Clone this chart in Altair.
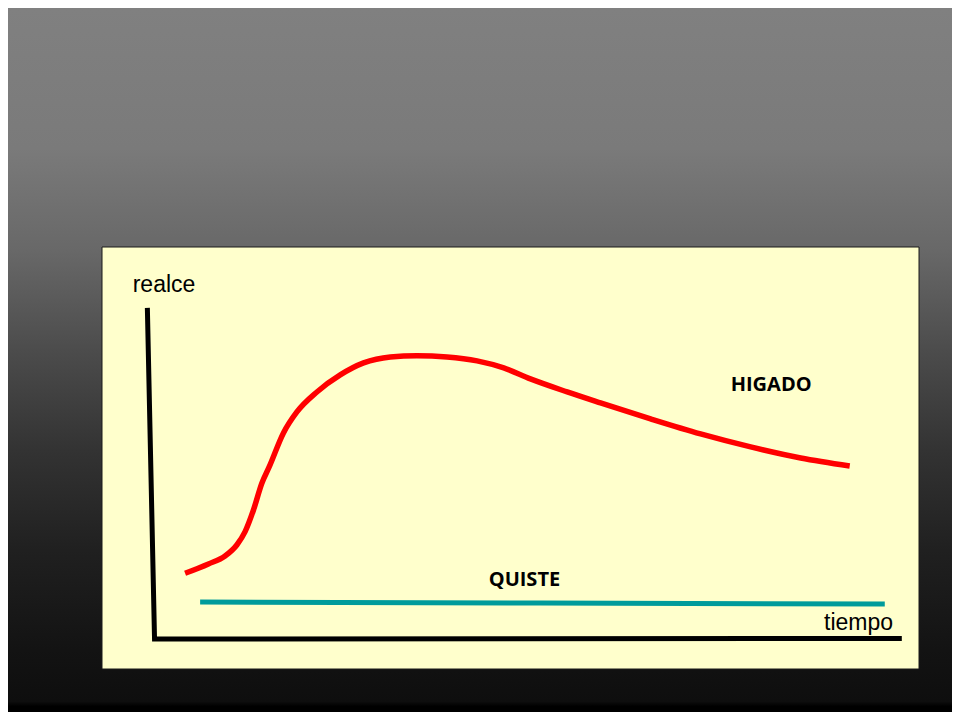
import altair as alt
import pandas as pd

# ---- data (units: tiempo 0..100 along drawn x-axis, realce 0..100 along drawn y-axis)
higado_t = [4.09, 7.21, 9.44, 11.01, 12.12, 13.24, 14.36, 15.34, 17.25, 19.05, 21.73, 24.85, 27.97, 31.55,
            35.12, 39.14, 43.16, 46.73, 50.30, 55.22, 59.68, 66.38, 73.07, 79.77, 86.47, 93.03]
higado_r = [19.85, 22.66, 25.08, 28.40, 32.42, 38.97, 47.04, 51.96, 62.24, 68.58, 74.62, 79.76, 83.38, 85.20,
            85.59, 85.20, 83.99, 81.87, 78.55, 74.62, 71.30, 66.47, 61.93, 58.01, 54.68, 52.27]

quiste_t = [6.10, 51.64, 97.72]
quiste_r = [11.18, 10.88, 10.57]

axis_t = [-0.96, 0.0, 100.0]
axis_r = [100.0, 0.0, 0.15]

plain_labels = ["realce", "tiempo"]
plain_t = [-2.92, 98.83]
plain_r = [104.9, 2.72]
plain_align = ["left", "right"]

bold_labels = ["HIGADO", "QUISTE"]
bold_t = [77.1, 44.72]
bold_r = [75.0, 16.1]

X_DOMAIN = [-7.03, 102.3]
Y_DOMAIN = [-9.06, 118.4]

W, H = 817, 422
PAD = {"left": 94, "top": 239, "right": 33, "bottom": 43}

xs = alt.Scale(domain=X_DOMAIN, nice=False, zero=False)
ys = alt.Scale(domain=Y_DOMAIN, nice=False, zero=False)

one = pd.DataFrame({"k": [0]})

bg = alt.Chart(one).mark_rect(
    color=alt.Gradient(
        gradient="linear",
        stops=[
            alt.GradientStop(color="#808080", offset=0.0),
            alt.GradientStop(color="#7a7a7a", offset=0.2),
            alt.GradientStop(color="#686868", offset=0.344),
            alt.GradientStop(color="#4c4c4c", offset=0.486),
            alt.GradientStop(color="#333333", offset=0.628),
            alt.GradientStop(color="#202020", offset=0.77),
            alt.GradientStop(color="#131313", offset=0.912),
            alt.GradientStop(color="#0e0e0e", offset=0.985),
            alt.GradientStop(color="#000000", offset=0.992),
            alt.GradientStop(color="#000000", offset=1.0),
        ],
        x1=0, x2=0, y1=0, y2=1,
    ),
    clip=False,
).encode(
    x=alt.value(-PAD["left"]), x2=alt.value(W + PAD["right"]),
    y=alt.value(-PAD["top"]), y2=alt.value(H + PAD["bottom"]),
)

panel = alt.Chart(one).mark_rect(
    fill="#FFFFCC", stroke="#1a1a1a", strokeWidth=1
).encode(
    x=alt.value(0), x2=alt.value(W), y=alt.value(0), y2=alt.value(H)
)

axes_df = pd.DataFrame({"t": axis_t, "r": axis_r, "o": list(range(len(axis_t)))})
axes_line = alt.Chart(axes_df).mark_line(
    color="#000000", strokeWidth=5, strokeJoin="miter", strokeCap="butt"
).encode(
    x=alt.X("t:Q", scale=xs, axis=None),
    y=alt.Y("r:Q", scale=ys, axis=None),
    order="o:Q",
)

hig_df = pd.DataFrame({"t": higado_t, "r": higado_r, "o": list(range(len(higado_t)))})
hig_line = alt.Chart(hig_df).mark_line(
    color="#FF0000", strokeWidth=5.5, interpolate="monotone", strokeCap="butt"
).encode(
    x=alt.X("t:Q", scale=xs, axis=None),
    y=alt.Y("r:Q", scale=ys, axis=None),
    order="o:Q",
)

q_df = pd.DataFrame({"t": quiste_t, "r": quiste_r, "o": list(range(len(quiste_t)))})
q_line = alt.Chart(q_df).mark_line(
    color="#009B9B", strokeWidth=5, strokeCap="butt"
).encode(
    x=alt.X("t:Q", scale=xs, axis=None),
    y=alt.Y("r:Q", scale=ys, axis=None),
    order="o:Q",
)

plain_df = pd.DataFrame({"label": plain_labels, "t": plain_t, "r": plain_r, "a": plain_align})
plain_left = alt.Chart(plain_df[plain_df.a == "left"]).mark_text(
    font="Liberation Sans", fontSize=23, align="left", baseline="alphabetic", color="#000000"
).encode(x=alt.X("t:Q", scale=xs, axis=None), y=alt.Y("r:Q", scale=ys, axis=None), text="label:N")
plain_right = alt.Chart(plain_df[plain_df.a == "right"]).mark_text(
    font="Liberation Sans", fontSize=23, align="right", baseline="alphabetic", color="#000000"
).encode(x=alt.X("t:Q", scale=xs, axis=None), y=alt.Y("r:Q", scale=ys, axis=None), text="label:N")

bold_df = pd.DataFrame({"label": bold_labels, "t": bold_t, "r": bold_r})
bold_text = alt.Chart(bold_df).mark_text(
    font="Open Sans", fontSize=20, fontWeight="bold", align="left", baseline="alphabetic", color="#000000"
).encode(x=alt.X("t:Q", scale=xs, axis=None), y=alt.Y("r:Q", scale=ys, axis=None), text="label:N")

chart = alt.layer(
    bg, panel, axes_line, q_line, hig_line, plain_left, plain_right, bold_text
).properties(
    width=W, height=H,
    autosize=alt.AutoSizeParams(type="none"),
    padding=PAD,
    background="#000000",
).configure_view(strokeWidth=0)

chart.save("out.html", embed_options={"renderer": "svg", "actions": False})
